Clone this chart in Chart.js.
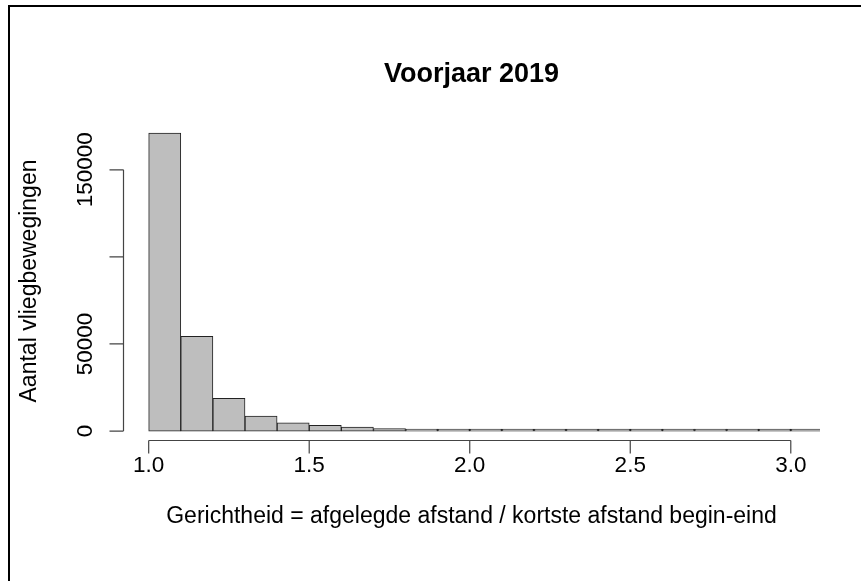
<!DOCTYPE html>
<html>
<head>
<meta charset="utf-8">
<script src="https://cdn.jsdelivr.net/npm/chart.js@4.4.1/dist/chart.umd.min.js"></script>
<style>
  html, body { margin: 0; padding: 0; background: #fff; }
  #wrap { width: 861px; height: 581px; }
</style>
</head>
<body>
<div id="wrap"><canvas id="hist" width="861" height="581"></canvas></div>
<script>
// Histogram bins (edges) and counts
const binEdges = [1.0, 1.1, 1.2, 1.3, 1.4, 1.5, 1.6, 1.7, 1.8, 1.9, 2.0,
                  2.1, 2.2, 2.3, 2.4, 2.5, 2.6, 2.7, 2.8, 2.9, 3.0, 3.1];
const counts = [171000, 54400, 18800, 8600, 4800, 3300, 2300, 1400, 800, 500,
                350, 250, 180, 130, 100, 80, 60, 50, 40, 30, 20];

const xTicks = [1.0, 1.5, 2.0, 2.5, 3.0];
const xTickLabels = ['1.0', '1.5', '2.0', '2.5', '3.0'];
const yTicks = [0, 50000, 100000, 150000];
const yTickLabels = ['0', '50000', '', '150000']; // R laat 100000 weg (overlap)

const titleText = 'Voorjaar 2019';
const xTitle = 'Gerichtheid = afgelegde afstand / kortste afstand begin-eind';
const yTitle = 'Aantal vliegbewegingen';

const FONT = "'Liberation Sans', Arial, Helvetica, sans-serif";

// bars op het midden van elke bin
const points = counts.map((c, i) => ({ x: (binEdges[i] + binEdges[i + 1]) / 2, y: c }));

// R-stijl assen, titels en kader tekenen met de schalen van Chart.js
const rStyle = {
  id: 'rStyle',
  beforeDraw(chart) {
    const ctx = chart.ctx;
    ctx.save();
    ctx.fillStyle = '#fff';
    ctx.fillRect(0, 0, chart.width, chart.height);
    ctx.restore();
  },
  afterDraw(chart) {
    const { ctx, chartArea, scales: { x, y } } = chart;
    const midX = (chartArea.left + chartArea.right) / 2;
    ctx.save();

    // kader (alleen boven en links zichtbaar)
    ctx.strokeStyle = '#000';
    ctx.lineWidth = 2;
    ctx.beginPath();
    ctx.moveTo(9, chart.height);
    ctx.lineTo(9, 6);
    ctx.lineTo(chart.width, 6);
    ctx.stroke();

    // x-as
    ctx.strokeStyle = '#444';
    ctx.lineWidth = 1.2;
    const axY = chartArea.bottom - 0.5;
    ctx.beginPath();
    ctx.moveTo(x.getPixelForValue(xTicks[0]), axY);
    ctx.lineTo(x.getPixelForValue(xTicks[xTicks.length - 1]), axY);
    xTicks.forEach(t => {
      const px = x.getPixelForValue(t);
      ctx.moveTo(px, axY);
      ctx.lineTo(px, axY + 13);
    });
    ctx.stroke();

    ctx.fillStyle = '#000';
    ctx.font = `22.5px ${FONT}`;
    ctx.textAlign = 'center';
    ctx.textBaseline = 'alphabetic';
    xTicks.forEach((t, i) => {
      ctx.fillText(xTickLabels[i], x.getPixelForValue(t), axY + 31);
    });

    // y-as
    const axX = chartArea.left + 0.5;
    ctx.beginPath();
    ctx.moveTo(axX, y.getPixelForValue(yTicks[0]));
    ctx.lineTo(axX, y.getPixelForValue(yTicks[yTicks.length - 1]));
    yTicks.forEach(t => {
      const py = y.getPixelForValue(t);
      ctx.moveTo(axX, py);
      ctx.lineTo(axX - 14, py);
    });
    ctx.stroke();

    yTicks.forEach((t, i) => {
      if (!yTickLabels[i]) return;
      ctx.save();
      ctx.translate(92, y.getPixelForValue(t));
      ctx.rotate(-Math.PI / 2);
      ctx.fillText(yTickLabels[i], 0, 0);
      ctx.restore();
    });

    // as-titels
    ctx.font = `23px ${FONT}`;
    ctx.fillText(xTitle, midX, 523);
    ctx.save();
    ctx.translate(36, (chartArea.top + chartArea.bottom) / 2);
    ctx.rotate(-Math.PI / 2);
    ctx.fillText(yTitle, 0, 0);
    ctx.restore();

    // hoofdtitel
    ctx.font = `bold 27px ${FONT}`;
    ctx.fillText(titleText, midX, 82);

    ctx.restore();
  }
};

const ctx = document.getElementById('hist').getContext('2d');
new Chart(ctx, {
  type: 'bar',
  data: {
    datasets: [{
      data: points,
      backgroundColor: '#bebebe',
      borderColor: '#222',
      borderWidth: 1,
      borderSkipped: false,
      barPercentage: 1,
      categoryPercentage: 1,
      minBarLength: 2
    }]
  },
  options: {
    responsive: false,
    animation: false,
    layout: { padding: { left: 123, right: 41, top: 121, bottom: 140 } },
    plugins: {
      legend: { display: false },
      tooltip: { enabled: false },
      title: { display: false }
    },
    scales: {
      x: { type: 'linear', min: 0.92, max: 3.091, offset: false, display: false },
      y: { min: -5700, max: 178000, display: false }
    }
  },
  plugins: [rStyle]
});
</script>
</body>
</html>
